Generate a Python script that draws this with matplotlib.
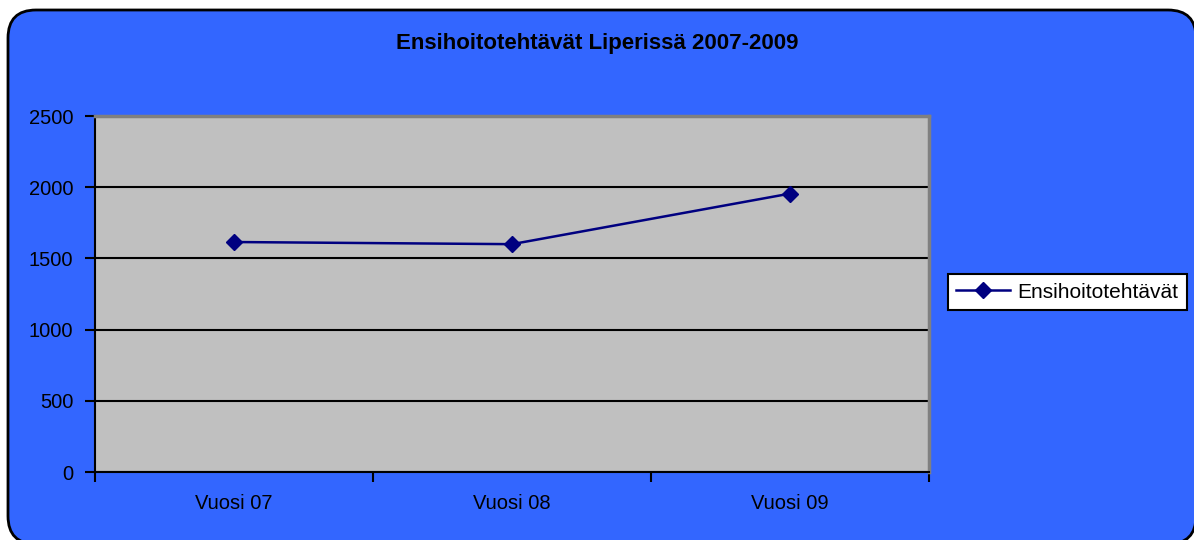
import matplotlib
matplotlib.use("Agg")
import matplotlib.pyplot as plt
from matplotlib.patches import FancyBboxPatch
from matplotlib.lines import Line2D

categories = ["Vuosi 07", "Vuosi 08", "Vuosi 09"]
values = [1615, 1600, 1955]
series_name = "Ensihoitotehtävät"
title = "Ensihoitotehtävät Liperissä 2007-2009"
yticks = [0, 500, 1000, 1500, 2000, 2500]

W, H = 1194, 540
fig = plt.figure(figsize=(W / 100, H / 100), dpi=100)
fig.patch.set_facecolor("white")
plt.rcParams['font.family'] = ['Liberation Sans', 'DejaVu Sans']

# rounded blue chart area (coordinates in inches, pixel/100)
x0, x1 = 8, 1196
ytop, ybot = 10, 544
bg = FancyBboxPatch((x0 / 100, (H - ybot) / 100), (x1 - x0) / 100, (ybot - ytop) / 100,
                    boxstyle="round,pad=0,rounding_size=0.28",
                    transform=fig.dpi_scale_trans, facecolor="#3366FF",
                    edgecolor="black", linewidth=2, zorder=-10)
fig.patches.append(bg)

L, R, T, B = 95, 929, 116, 472
ax = fig.add_axes([L / W, 1 - B / H, (R - L) / W, (B - T) / H])
ax.set_zorder(5)
ax.set_facecolor("#C0C0C0")

x = list(range(len(categories)))
ax.plot(x, values, color="#000080", marker="D", markersize=8, linewidth=1.8,
        label=series_name, zorder=3)

ax.set_xlim(-0.5, len(categories) - 0.5)
ax.set_ylim(0, 2500)
ax.set_yticks(yticks)
ax.set_yticklabels([str(v) for v in yticks], fontsize=14.5)
ax.set_xticks(x)
ax.set_xticklabels(categories, fontsize=14.5)
ax.set_xticks([i - 0.5 for i in range(len(categories) + 1)], minor=True)
ax.tick_params(axis="x", which="major", length=0, pad=16)
ax.tick_params(axis="x", which="minor", length=7, width=1.5, direction="out")
ax.tick_params(axis="y", length=7, width=1.5, direction="out", pad=8.5)

ax.yaxis.grid(True, color="black", linewidth=1.5)
ax.set_axisbelow(True)
for s in ["top", "right"]:
    ax.spines[s].set_color("#808080")
    ax.spines[s].set_linewidth(2.5)
for s in ["left", "bottom"]:
    ax.spines[s].set_color("black")
    ax.spines[s].set_linewidth(1.5)

fig.text(0.5, 1 - 44 / H, title, ha="center", va="center",
         fontsize=16, fontweight="bold", zorder=6)

handle = Line2D([], [], color="#000080", marker="D", markersize=8, linewidth=1.8)
leg = fig.legend([handle], [series_name], loc="center right",
                 bbox_to_anchor=(1187 / W, 1 - 292 / H), fontsize=15,
                 frameon=True, fancybox=False, edgecolor="black", framealpha=1,
                 handlelength=2.6, borderpad=0.4, handletextpad=0.35,
                 borderaxespad=0)
leg.set_zorder(6)
leg.get_frame().set_linewidth(1.5)
leg.get_frame().set_facecolor("white")

fig.savefig("out.png", dpi=100, facecolor="white")
